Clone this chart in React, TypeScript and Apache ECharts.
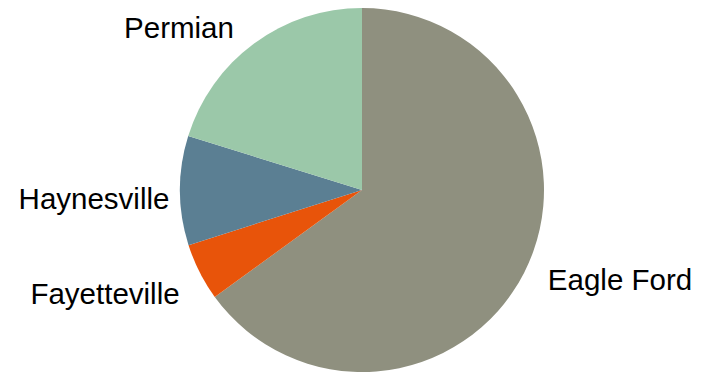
import React, { useEffect, useRef } from "react";
import * as echarts from "echarts";

const categories = ["Eagle Ford", "Fayetteville", "Haynesville", "Permian"];
const values = [65, 5.1, 9.7, 20.2];
const colors = ["#8F907F", "#E8540A", "#5B7F93", "#9BC8A9"];
const labelPos: [number, number][] = [
  [620, 279],
  [105, 293],
  [94, 198],
  [179, 27],
];

export default function App() {
  const ref = useRef<HTMLDivElement>(null);
  useEffect(() => {
    if (!ref.current) return;
    const chart = echarts.init(ref.current, null, { renderer: "svg" });
    chart.setOption({
      animation: false,
      backgroundColor: "#ffffff",
      series: [
        {
          type: "pie",
          center: [362, 190],
          radius: 182,
          startAngle: 90,
          clockwise: true,
          data: categories.map((c, i) => ({
            name: c,
            value: values[i],
            itemStyle: { color: colors[i] },
          })),
          label: {
            show: true,
            formatter: "{b}",
            fontFamily: "Liberation Sans, Arial, sans-serif",
            fontSize: 29.5,
            color: "#000000",
            overflow: "none",
            width: 300,
            alignTo: "none",
          },
          labelLine: { show: false },
          labelLayout: (p: any) => ({
            x: labelPos[p.dataIndex][0],
            y: labelPos[p.dataIndex][1],
            align: "center",
            verticalAlign: "middle",
          }),
          itemStyle: { borderWidth: 0 },
          emphasis: { disabled: true },
        },
      ],
    });
    return () => chart.dispose();
  }, []);
  return (
    <div
      ref={ref}
      style={{ position: "fixed", left: 0, top: 0, width: 703, height: 375 }}
    />
  );
}
